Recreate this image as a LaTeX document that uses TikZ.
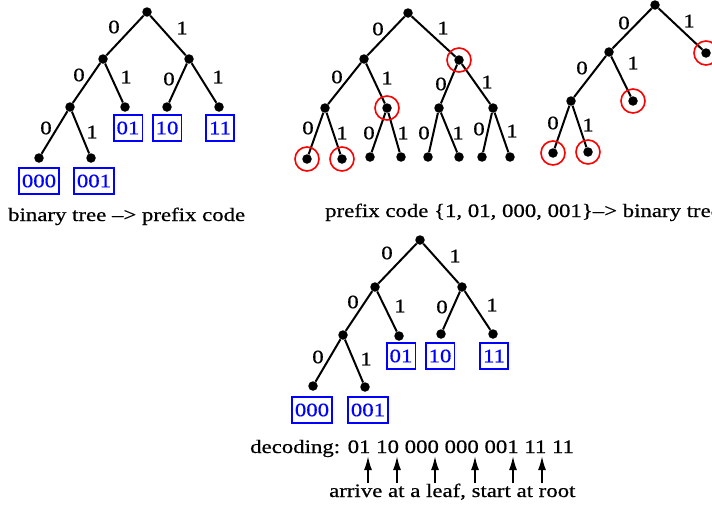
\documentclass[tikz,border=0pt]{standalone}
\usepackage{fontspec}
\setmainfont{Liberation Serif}[FakeStretch=1.2,FakeBold=0.6]
\usetikzlibrary{arrows.meta}
\begin{document}
\begin{tikzpicture}[x=1pt,y=-1pt,
 dot/.style={circle,fill=black,inner sep=0pt,minimum size=9.5pt},
 edge/.style={line width=2pt},
 lab/.style={inner sep=0pt,font=\fontsize{19}{21}\selectfont},
 code/.style={draw=blue,text=blue,line width=1.8pt,inner xsep=3pt,inner ysep=0pt,minimum height=26pt,font=\fontsize{19}{21}\selectfont},
 ring/.style={circle,draw=red,line width=1.6pt,minimum size=24pt,inner sep=0pt},
 captxt/.style={inner sep=0pt,anchor=base west,font=\fontsize{19}{21}\selectfont},
 arr/.style={line width=1.8pt,-{Latex[length=14pt,width=8pt]}}]
\useasboundingbox (0,0) rectangle (712,506);
% ---------- tree 1
\node[dot] (a0) at (147,12) {};
\node[dot] (a1) at (103,59) {};
\node[dot] (a2) at (189,59) {};
\node[dot] (a3) at (70,107) {};
\node[dot] (a4) at (125,107) {};
\node[dot] (a5) at (167,107) {};
\node[dot] (a6) at (219,107) {};
\node[dot] (a7) at (39,158) {};
\node[dot] (a8) at (91,158) {};
\draw[edge] (a0)--(a1) (a0)--(a2) (a1)--(a3) (a1)--(a4) (a2)--(a5) (a2)--(a6) (a3)--(a7) (a3)--(a8);
\node[lab] (la1) at (114,27) {0};
\node[lab] (la2) at (182,28) {1};
\node[lab] (la3) at (79,75) {0};
\node[lab] (la4) at (126,77) {1};
\node[lab] (la5) at (169,79) {0};
\node[lab] (la6) at (218,77) {1};
\node[lab] (la7) at (46,128) {0};
\node[lab] (la8) at (92,132) {1};
\node[code] (ka1) at (128,128) {01};
\node[code] (ka2) at (167,128) {10};
\node[code] (ka3) at (220,128) {11};
\node[code] (ka4) at (39,181) {000};
\node[code] (ka5) at (94,181) {001};
\node[captxt] (cap1) at (8,221) {binary tree –> prefix code};
% ---------- tree 2
\node[dot] (b0) at (408,13) {};
\node[dot] (b1) at (364,59) {};
\node[dot] (b2) at (459,60) {};
\node[dot] (b3) at (325,108) {};
\node[dot] (b4) at (387,108) {};
\node[dot] (b5) at (439,108) {};
\node[dot] (b6) at (493,108) {};
\node[dot] (b7) at (307,159) {};
\node[dot] (b8) at (342,159) {};
\node[dot] (b9) at (370,157) {};
\node[dot] (b10) at (401,157) {};
\node[dot] (b11) at (428,157) {};
\node[dot] (b12) at (459,157) {};
\node[dot] (b13) at (482,157) {};
\node[dot] (b14) at (510,157) {};
\draw[edge] (b0)--(b1) (b0)--(b2) (b1)--(b3) (b1)--(b4) (b2)--(b5) (b2)--(b6)
 (b3)--(b7) (b3)--(b8) (b4)--(b9) (b4)--(b10) (b5)--(b11) (b5)--(b12) (b6)--(b13) (b6)--(b14);
\node[lab] (lb1) at (378,29) {0};
\node[lab] (lb2) at (443,28) {1};
\node[lab] (lb3) at (337,77) {0};
\node[lab] (lb4) at (387,78) {1};
\node[lab] (lb5) at (441,84) {0};
\node[lab] (lb6) at (487,82) {1};
\node[lab] (lb7) at (308,128) {0};
\node[lab] (lb8) at (342,133) {1};
\node[lab] (lb9) at (369,133) {0};
\node[lab] (lb10) at (403,133) {1};
\node[lab] (lb11) at (424,133) {0};
\node[lab] (lb12) at (458,133) {1};
\node[lab] (lb13) at (479,129) {0};
\node[lab] (lb14) at (512,131) {1};
\node[ring] (rb1) at (b2) {};
\node[ring] (rb2) at (b4) {};
\node[ring] (rb3) at (b7) {};
\node[ring] (rb4) at (b8) {};
\node[captxt] (cap2) at (325,217) {prefix code \{1, 01, 000, 001\}–> binary tree};
% ---------- tree 3
\node[dot] (c0) at (655,5) {};
\node[dot] (c1) at (609,52) {};
\node[dot] (c2) at (706,53) {};
\node[dot] (c3) at (571,101) {};
\node[dot] (c4) at (633,101) {};
\node[dot] (c5) at (553,153) {};
\node[dot] (c6) at (588,152) {};
\draw[edge] (c0)--(c1) (c0)--(c2) (c1)--(c3) (c1)--(c4) (c3)--(c5) (c3)--(c6);
\node[lab] (lc1) at (624,23) {0};
\node[lab] (lc2) at (689,21) {1};
\node[lab] (lc3) at (582,68) {0};
\node[lab] (lc4) at (633,63) {1};
\node[lab] (lc5) at (553,123) {0};
\node[lab] (lc6) at (588,125) {1};
\node[ring] (rc1) at (c2) {};
\node[ring] (rc2) at (c4) {};
\node[ring] (rc3) at (c5) {};
\node[ring] (rc4) at (c6) {};
% ---------- tree 4
\node[dot] (d0) at (420,240) {};
\node[dot] (d1) at (375,287) {};
\node[dot] (d2) at (462,287) {};
\node[dot] (d3) at (343,335) {};
\node[dot] (d4) at (399,336) {};
\node[dot] (d5) at (441,334) {};
\node[dot] (d6) at (493,334) {};
\node[dot] (d7) at (313,386) {};
\node[dot] (d8) at (365,387) {};
\draw[edge] (d0)--(d1) (d0)--(d2) (d1)--(d3) (d1)--(d4) (d2)--(d5) (d2)--(d6) (d3)--(d7) (d3)--(d8);
\node[lab] (ld1) at (387,253) {0};
\node[lab] (ld2) at (455,256) {1};
\node[lab] (ld3) at (353,302) {0};
\node[lab] (ld4) at (400,306) {1};
\node[lab] (ld5) at (442,307) {0};
\node[lab] (ld6) at (492,305) {1};
\node[lab] (ld7) at (318,357) {0};
\node[lab] (ld8) at (366,359) {1};
\node[code] (kd1) at (401,356) {01};
\node[code] (kd2) at (440,356) {10};
\node[code] (kd3) at (494,356) {11};
\node[code] (kd4) at (312,410) {000};
\node[code] (kd5) at (368,410) {001};
\node[captxt] (dec) at (250,453) {decoding: 01 10 000 000 001 11 11};
\node[captxt] (arrv) at (329,497) {arrive at a leaf, start at root};
\foreach \i/\x in {1/368,2/397,3/435,4/475,5/513,6/542}{
  \coordinate (s\i) at (\x,483);
  \coordinate (e\i) at (\x,456);
  \draw[arr] (s\i) -- (e\i);
}
\end{tikzpicture}
\end{document}
